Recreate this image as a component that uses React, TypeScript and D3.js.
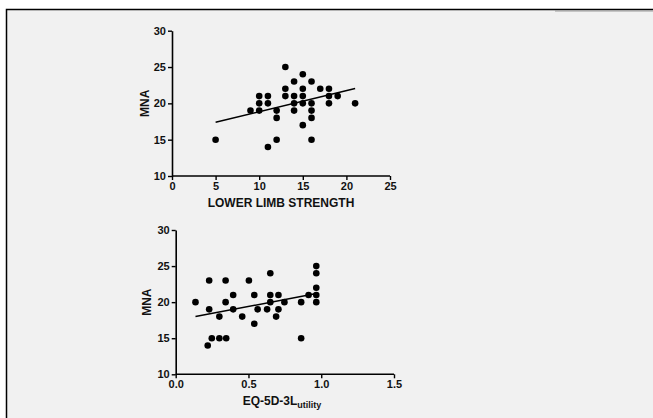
import React, { useEffect, useRef } from 'react';
import * as d3 from 'd3';

// top panel: lower limb strength vs MNA
const strengthX = [5, 9, 10, 10, 10, 11, 11, 11, 12, 12, 12, 13, 13, 13, 14, 14, 14, 14, 15, 15, 15, 15, 15, 16, 16, 16, 16, 16, 17, 18, 18, 18, 19, 21];
const strengthMna = [15, 19, 21, 20, 19, 21, 20, 14, 19, 18, 15, 25, 22, 21, 23, 21, 20, 19, 24, 22, 21, 20, 17, 23, 20, 19, 18, 15, 22, 22, 21, 20, 21, 20];
const strengthFitX = [5, 21];
const strengthFitY = [17.4, 22.05];
const strengthTicks = [0, 5, 10, 15, 20, 25];

// bottom panel: EQ-5D-3L utility vs MNA
const eqX = [0.136, 0.22, 0.23, 0.23, 0.248, 0.3, 0.3, 0.343, 0.343, 0.347, 0.395, 0.395, 0.457, 0.503, 0.54, 0.54, 0.563, 0.628, 0.65, 0.65, 0.65, 0.69, 0.706, 0.706, 0.747, 0.862, 0.862, 0.913, 0.966, 0.966, 0.966, 0.966, 0.966];
const eqMna = [20, 14, 23, 19, 15, 15, 18, 23, 20, 15, 21, 19, 18, 23, 21, 17, 19, 19, 24, 21, 20, 18, 21, 19, 20, 20, 15, 21, 25, 24, 22, 21, 20];
const eqFitX = [0.136, 0.966];
const eqFitY = [18.0, 21.2];
const eqTicks = [0, 0.5, 1.0, 1.5];

const mnaTicks = [10, 15, 20, 25, 30];

const font = '"Liberation Sans", Arial, sans-serif';

const drawPanel = (svg, opts) => {
	const { xs, ys, fitX, fitY, xTicks, xDomain, xRange, yRange, fmt, title, sub, titleX, yLabelX } = opts;
	const x = d3.scaleLinear().domain(xDomain).range(xRange);
	const y = d3.scaleLinear().domain([10, 30]).range(yRange);
	const g = svg.append('g');

	const styleAxis = (a) => {
		a.selectAll('path').attr('stroke', '#000').attr('stroke-width', 1.6);
		a.selectAll('line').attr('stroke', '#000').attr('stroke-width', 1.4);
		a.selectAll('text')
			.attr('fill', '#111')
			.attr('font-family', font)
			.attr('font-weight', 'bold')
			.attr('font-size', 11);
	};

	const ax = g.append('g')
		.attr('transform', `translate(0,${ yRange[0] })`)
		.call(d3.axisBottom(x).tickValues(xTicks).tickSize(4)
			.tickSizeOuter(0)
			.tickPadding(2)
			.tickFormat(fmt));
	styleAxis(ax);

	const ay = g.append('g')
		.attr('transform', `translate(${ xRange[0] },0)`)
		.call(d3.axisLeft(y).tickValues(mnaTicks).tickSize(4)
			.tickSizeOuter(0)
			.tickPadding(2)
			.tickFormat(d3.format('d')));
	styleAxis(ay);
	ax.select('.domain').attr('d', `M${ xRange[0] },0H${ xRange[1] }`);

	g.append('line')
		.attr('x1', x(fitX[0])).attr('y1', y(fitY[0]))
		.attr('x2', x(fitX[1])).attr('y2', y(fitY[1]))
		.attr('stroke', '#000')
		.attr('stroke-width', 1.5);

	g.selectAll('circle')
		.data(xs)
		.join('circle')
		.attr('cx', (d) => x(d))
		.attr('cy', (d, i) => y(ys[i]))
		.attr('r', 3.3)
		.attr('fill', '#000');

	const t = g.append('text')
		.attr('x', titleX)
		.attr('y', yRange[0] + 31)
		.attr('text-anchor', 'middle')
		.attr('font-family', font)
		.attr('font-weight', 'bold')
		.attr('font-size', 12)
		.attr('fill', '#111')
		.text(title);
	if (sub) {
		t.append('tspan')
			.attr('font-size', 9)
			.attr('dy', 3)
			.text(sub);
	}

	g.append('text')
		.attr('transform', `translate(${ yLabelX },${ (yRange[0] + yRange[1]) / 2 }) rotate(-90)`)
		.attr('text-anchor', 'middle')
		.attr('font-family', font)
		.attr('font-weight', 'bold')
		.attr('font-size', 12)
		.attr('fill', '#111')
		.text('MNA');
};

const drawChart = (ref) => {
	const svg = d3.select(ref.current);
	svg.selectAll('*').remove();

	svg.append('rect').attr('width', 653).attr('height', 418)
		.attr('fill', '#fff');
	svg.append('rect').attr('x', 6).attr('y', 9.5)
		.attr('width', 647)
		.attr('height', 409)
		.attr('fill', '#f1f1f1');
	svg.append('path').attr('d', 'M6.5,418V9.5H653')
		.attr('fill', 'none')
		.attr('stroke', '#000')
		.attr('stroke-width', 1.5);
	svg.append('line').attr('x1', 555).attr('x2', 653)
		.attr('y1', 11).attr('y2', 11)
		.attr('stroke', '#999')
		.attr('stroke-width', 1);

	drawPanel(svg, {
		xs: strengthX, ys: strengthMna, fitX: strengthFitX, fitY: strengthFitY,
		xTicks: strengthTicks, xDomain: [0, 25], xRange: [172, 390], yRange: [176, 30.7],
		fmt: d3.format('d'), title: 'LOWER LIMB STRENGTH', sub: null, titleX: 281, yLabelX: 149,
	});
	drawPanel(svg, {
		xs: eqX, ys: eqMna, fitX: eqFitX, fitY: eqFitY,
		xTicks: eqTicks, xDomain: [0, 1.5], xRange: [175.7, 394], yRange: [374.3, 230],
		fmt: d3.format('.1f'), title: 'EQ-5D-3L', sub: 'utility', titleX: 282, yLabelX: 151,
	});
};

const App = () => {
	const ref = useRef(null);

	useEffect(() => drawChart(ref), []);

	return (
		<svg ref={ ref } width={ 653 } height={ 418 }
			style={ { position: 'absolute', left: 0, top: 0, display: 'block' } }/>
	);
};

export default App;
